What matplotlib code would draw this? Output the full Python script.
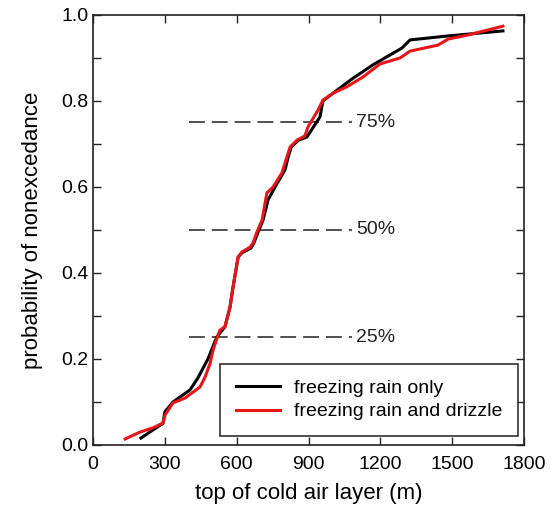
import matplotlib.pyplot as plt
from matplotlib.ticker import MultipleLocator

plt.rcParams['font.family'] = ['Liberation Sans', 'DejaVu Sans']

# freezing rain only
x_rain = [200, 250, 292, 300, 334, 405, 438, 480, 505, 518, 551, 572, 585, 606,
          622, 660, 672, 690, 710, 731, 760, 802, 815, 828, 858, 893, 948, 960,
          1002, 1086, 1169, 1240, 1290, 1324, 1478, 1712]
p_rain = [0.016, 0.035, 0.05, 0.077, 0.10, 0.128, 0.156, 0.20, 0.235, 0.252,
          0.275, 0.32, 0.368, 0.437, 0.447, 0.458, 0.47, 0.496, 0.523, 0.57,
          0.60, 0.64, 0.67, 0.693, 0.709, 0.716, 0.763, 0.80, 0.818, 0.853,
          0.884, 0.907, 0.923, 0.942, 0.951, 0.963]

# freezing rain and drizzle
x_both = [134, 196, 251, 292, 301, 334, 384, 413, 447, 468, 489, 501, 518, 530,
          551, 572, 585, 606, 622, 656, 668, 685, 706, 726, 752, 789, 810, 823,
          852, 885, 898, 927, 940, 960, 1002, 1060, 1128, 1198, 1282, 1324,
          1441, 1483, 1562, 1712]
p_both = [0.014, 0.03, 0.04, 0.051, 0.07, 0.098, 0.109, 0.121, 0.135, 0.158,
          0.19, 0.22, 0.249, 0.267, 0.275, 0.32, 0.368, 0.437, 0.449, 0.46,
          0.47, 0.496, 0.523, 0.586, 0.60, 0.633, 0.67, 0.693, 0.709, 0.719,
          0.74, 0.767, 0.779, 0.802, 0.818, 0.833, 0.856, 0.886, 0.90, 0.916,
          0.93, 0.944, 0.953, 0.974]

# percentile guide lines
levels = [0.25, 0.50, 0.75]
level_labels = ['25%', '50%', '75%']
guide_x = [400, 1080]

fig = plt.figure(figsize=(5.55, 5.26), dpi=100)
ax = fig.add_axes([0.1676, 0.154, 0.7766, 0.8175])

for lv, lab in zip(levels, level_labels):
    ln, = ax.plot(guide_x, [lv, lv], color='#333333', lw=1.2)
    ln.set_dashes([9.5, 4.2])
    ax.text(1100, lv, lab, fontsize=14, va='center', ha='left', color='#222222')

ax.plot(x_rain, p_rain, color='black', lw=2.2, label='freezing rain only')
ax.plot(x_both, p_both, color='#e8161b', lw=2.2, label='freezing rain and drizzle')

ax.set_xlim(0, 1800)
ax.set_ylim(0, 1.0)
ax.xaxis.set_major_locator(MultipleLocator(300))
ax.yaxis.set_major_locator(MultipleLocator(0.2))
ax.yaxis.set_minor_locator(MultipleLocator(0.1))
ax.yaxis.set_major_formatter(plt.FuncFormatter(lambda v, p: f'{v:.1f}'))
ax.tick_params(which='both', direction='in', top=True, right=True,
               length=6, width=1, labelsize=14, color='#222222')
ax.tick_params(axis='x', pad=8)
for s in ax.spines.values():
    s.set_linewidth(1.2)
    s.set_color('#222222')

ax.set_xlabel('top of cold air layer (m)', fontsize=16, labelpad=7)
ax.set_ylabel('probability of nonexcedance', fontsize=16, labelpad=13)

leg = ax.legend(loc='lower right', bbox_to_anchor=(0.986, 0.021), fontsize=14,
                frameon=True, fancybox=False, edgecolor='black',
                handlelength=2.3, borderpad=0.8, labelspacing=0.3,
                borderaxespad=0, handletextpad=0.7)
leg.get_frame().set_linewidth(1.2)

plt.savefig('out.png', dpi=100)
